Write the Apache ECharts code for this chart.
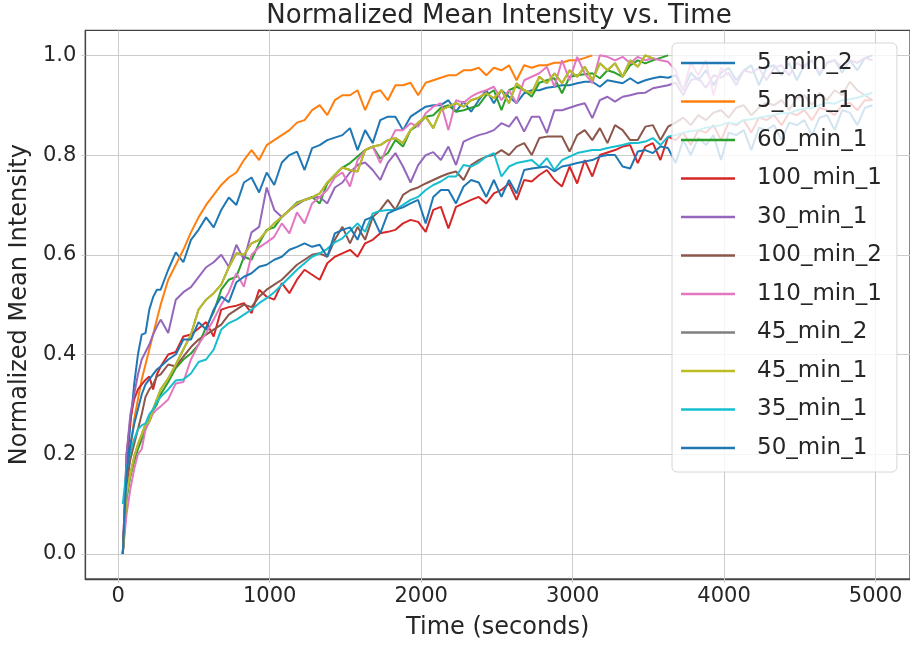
<!DOCTYPE html>
<html><head><meta charset="utf-8">
<script src="https://cdn.jsdelivr.net/npm/echarts@6/dist/echarts.min.js"></script>
<style>html,body{margin:0;padding:0;background:#fff}#c{width:910px;height:647px}</style>
</head><body><div id="c"></div><script>
const times = [30,55,80,105,130,155,180,205,230,255,280,
330,380,430,480,530,580,630,680,730,780,
830,880,930,980,1030,1080,1130,1180,1230,1280,
1330,1380,1430,1480,1530,1580,1630,1680,1730,1780,
1830,1880,1930,1980,2030,2080,2130,2180,2230,2280,
2330,2380,2430,2480,2530,2580,2630,2680,2730,2780,
2830,2880,2930,2980,3030,3080,3130,3180,3230,3280,
3330,3380,3430,3480,3530,3580,3630,3680,3730,3780,
3830,3880,3930,3980,4030,4080,4130,4180,4230,4280,
4330,4380,4430,4480,4530,4580,4630,4680,4730,4780,
4830,4880,4930,4980];

const v5min2 = [0,0.17,0.26,0.34,0.40,0.44,0.443,0.49,0.515,0.53,0.53,
0.57,0.605,0.585,0.63,0.65,0.675,0.655,0.69,0.715,0.70,
0.745,0.755,0.725,0.765,0.74,0.785,0.80,0.807,0.77,0.814,
0.82,0.83,0.835,0.84,0.854,0.81,0.85,0.824,0.87,0.877,
0.877,0.85,0.877,0.887,0.897,0.90,0.90,0.91,0.887,0.907,
0.887,0.91,0.93,0.904,0.93,0.917,0.904,0.924,0.93,0.93,
0.935,0.937,0.94,0.94,0.944,0.947,0.947,0.937,0.95,0.947,
0.944,0.954,0.944,0.95,0.954,0.957,0.955,0.96,0.93,0.965,
0.95,0.97,0.94,0.965,0.975,0.95,0.97,0.98,0.94,0.975,
0.98,0.96,0.985,0.95,0.98,0.99,0.96,0.985,0.99,0.965,
0.99,0.97,0.995,1.0];

const v5min1 = [0,0.13,0.21,0.27,0.31,0.35,0.38,0.41,0.44,0.47,0.50,
0.55,0.58,0.61,0.645,0.675,0.70,0.72,0.74,0.755,0.765,
0.79,0.81,0.79,0.82,0.83,0.84,0.85,0.865,0.87,0.89,
0.90,0.88,0.91,0.92,0.92,0.93,0.89,0.925,0.93,0.91,
0.94,0.94,0.945,0.92,0.945,0.95,0.955,0.96,0.96,0.97,
0.97,0.975,0.96,0.975,0.97,0.98,0.95,0.98,0.975,0.98,
0.98,0.985,0.985,0.99,0.99,0.995,1.0];

const v60min1 = [0,0.11,0.155,0.185,0.21,0.23,0.25,0.27,0.288,0.30,0.32,
0.345,0.373,0.39,0.402,0.42,0.455,0.485,0.53,0.55,0.556,
0.596,0.59,0.623,0.65,0.655,0.676,0.69,0.705,0.71,0.716,
0.703,0.743,0.76,0.775,0.784,0.797,0.81,0.817,0.793,0.804,
0.83,0.817,0.85,0.86,0.877,0.88,0.895,0.90,0.887,0.89,
0.895,0.90,0.92,0.93,0.89,0.93,0.937,0.93,0.917,0.945,
0.95,0.954,0.924,0.957,0.96,0.962,0.964,0.954,0.97,0.965,
0.957,0.98,0.99,0.984,0.99,0.995,1.0];

const v100min1 = [0,0.2,0.27,0.31,0.33,0.34,0.349,0.356,0.33,0.36,0.376,
0.40,0.405,0.436,0.44,0.452,0.465,0.436,0.49,0.495,0.498,
0.503,0.483,0.53,0.516,0.51,0.543,0.523,0.55,0.57,0.56,
0.55,0.583,0.596,0.603,0.61,0.596,0.623,0.63,0.643,0.646,
0.65,0.663,0.67,0.666,0.646,0.69,0.696,0.653,0.696,0.703,
0.71,0.716,0.703,0.723,0.73,0.743,0.71,0.75,0.747,0.76,
0.77,0.75,0.737,0.777,0.743,0.79,0.757,0.80,0.805,0.81,
0.817,0.82,0.784,0.817,0.824,0.79,0.837,0.83,0.845,0.82,
0.85,0.845,0.86,0.83,0.865,0.86,0.87,0.845,0.875,0.87,
0.88,0.86,0.885,0.88,0.89,0.87,0.895,0.89,0.88,0.90,
0.905,0.89,0.91,0.91];

const v30min1 = [0,0.2,0.28,0.32,0.36,0.39,0.405,0.42,0.44,0.456,0.47,
0.443,0.51,0.525,0.535,0.555,0.575,0.585,0.60,0.576,0.62,
0.59,0.645,0.656,0.735,0.69,0.676,0.69,0.70,0.71,0.715,
0.716,0.703,0.735,0.745,0.765,0.78,0.785,0.77,0.75,0.785,
0.804,0.777,0.745,0.78,0.80,0.806,0.79,0.817,0.78,0.827,
0.834,0.84,0.844,0.85,0.864,0.857,0.877,0.847,0.877,0.877,
0.844,0.89,0.89,0.895,0.90,0.904,0.874,0.91,0.917,0.907,
0.917,0.92,0.924,0.925,0.934,0.937,0.94,0.945,0.92,0.95,
0.955,0.935,0.96,0.955,0.965,0.94,0.97,0.965,0.975,0.95,
0.975,0.98,0.96,0.985,0.975,0.99,0.965,0.985,0.99,0.975,
0.99,0.985,0.995,0.99];

const v100min2 = [0,0.14,0.19,0.22,0.25,0.28,0.315,0.33,0.34,0.356,0.36,
0.38,0.376,0.396,0.415,0.43,0.44,0.45,0.46,0.48,0.49,
0.50,0.495,0.516,0.53,0.54,0.55,0.565,0.58,0.59,0.60,
0.603,0.596,0.63,0.656,0.623,0.656,0.63,0.676,0.69,0.71,
0.69,0.72,0.73,0.735,0.743,0.75,0.757,0.763,0.767,0.75,
0.78,0.79,0.797,0.80,0.81,0.80,0.817,0.824,0.80,0.834,
0.837,0.837,0.837,0.807,0.84,0.85,0.83,0.854,0.824,0.86,
0.85,0.83,0.83,0.857,0.86,0.83,0.857,0.865,0.875,0.86,
0.88,0.87,0.885,0.89,0.875,0.895,0.90,0.88,0.895,0.905,
0.90,0.91,0.89,0.915,0.92,0.90,0.925,0.91,0.93,0.92,
0.947,0.93,0.92,0.91];

const v110min1 = [0,0.08,0.13,0.17,0.20,0.21,0.25,0.265,0.282,0.29,0.296,
0.31,0.342,0.345,0.39,0.42,0.443,0.47,0.50,0.525,0.563,
0.536,0.60,0.615,0.625,0.636,0.663,0.643,0.685,0.663,0.703,
0.716,0.73,0.755,0.765,0.737,0.79,0.81,0.817,0.784,0.82,
0.85,0.85,0.864,0.857,0.884,0.897,0.904,0.85,0.91,0.905,
0.917,0.925,0.93,0.937,0.91,0.93,0.904,0.95,0.957,0.964,
0.977,0.937,0.99,0.95,0.997,0.964,0.944,1.0,0.997,0.99,
0.997,0.984,0.997,0.99,0.994,0.99,0.987,0.97,0.93,0.985,
0.96,0.99,0.92,0.975,0.96];

const v45min1 = [0,0.12,0.16,0.195,0.22,0.24,0.26,0.265,0.29,0.31,0.33,
0.352,0.38,0.41,0.44,0.49,0.51,0.523,0.54,0.575,0.603,
0.60,0.623,0.63,0.648,0.663,0.676,0.69,0.703,0.71,0.715,
0.723,0.745,0.76,0.775,0.77,0.767,0.81,0.817,0.82,0.83,
0.834,0.824,0.85,0.865,0.877,0.854,0.89,0.897,0.904,0.897,
0.91,0.915,0.924,0.914,0.93,0.904,0.944,0.93,0.924,0.957,
0.944,0.964,0.944,0.97,0.957,0.977,0.95,0.984,0.97,0.984,
0.957,0.99,0.977,1.0,0.994];

const v45min2 = v45min1;

const v35min1 = [0.10,0.17,0.205,0.23,0.25,0.258,0.262,0.28,0.29,0.305,0.315,
0.33,0.348,0.35,0.362,0.385,0.39,0.41,0.45,0.463,0.47,
0.48,0.49,0.503,0.513,0.525,0.54,0.555,0.57,0.583,0.596,
0.603,0.612,0.625,0.633,0.648,0.663,0.646,0.683,0.688,0.69,
0.69,0.70,0.71,0.716,0.73,0.74,0.747,0.757,0.757,0.78,
0.777,0.785,0.797,0.804,0.757,0.777,0.784,0.787,0.79,0.777,
0.794,0.77,0.79,0.797,0.804,0.807,0.81,0.81,0.814,0.817,
0.82,0.824,0.824,0.827,0.834,0.82,0.837,0.84,0.845,0.848,
0.85,0.855,0.857,0.86,0.865,0.862,0.87,0.872,0.875,0.878,
0.88,0.885,0.883,0.89,0.893,0.895,0.90,0.905,0.903,0.91,
0.912,0.915,0.92,0.925];

const v50min1 = [0,0.16,0.22,0.26,0.29,0.32,0.34,0.35,0.36,0.37,0.376,
0.39,0.40,0.43,0.43,0.465,0.45,0.49,0.516,0.505,0.545,
0.556,0.563,0.576,0.58,0.59,0.596,0.61,0.616,0.623,0.616,
0.62,0.596,0.643,0.65,0.655,0.63,0.67,0.676,0.643,0.683,
0.69,0.695,0.703,0.71,0.663,0.716,0.73,0.73,0.703,0.737,
0.75,0.745,0.716,0.75,0.716,0.75,0.723,0.77,0.773,0.775,
0.777,0.767,0.777,0.78,0.784,0.787,0.79,0.797,0.80,0.80,
0.777,0.773,0.807,0.81,0.804,0.817,0.814,0.784,0.83,0.80,
0.835,0.82,0.84,0.79,0.845,0.84,0.85,0.81,0.855,0.85,
0.86,0.83,0.865,0.86,0.87,0.84,0.875,0.88,0.85,0.89,
0.885,0.86,0.895,0.90];

const seriesNames = ['5_min_2','5_min_1','60_min_1','100_min_1','30_min_1','100_min_2','110_min_1','45_min_2','45_min_1','35_min_1','50_min_1'];
const seriesValues = [v5min2,v5min1,v60min1,v100min1,v30min1,v100min2,v110min1,v45min2,v45min1,v35min1,v50min1];
const seriesColors = ['#1f77b4','#ff7f0e','#2ca02c','#d62728','#9467bd','#8c564b','#e377c2','#7f7f7f','#bcbd22','#17becf','#1f77b4'];
const xTicks = [0,1000,2000,3000,4000,5000];
const yTicks = [0,0.2,0.4,0.6,0.8,1.0];

const FONT = '"DejaVu Sans", sans-serif';
const TXT = '#262626';
const chart = echarts.init(document.getElementById('c'), null, {renderer:'canvas'});
const series = seriesNames.map((n, k) => ({
  type:'line', name:n, color:seriesColors[k], symbol:'none', showSymbol:false,
  animation:false, silent:true,
  lineStyle:{width:2, color:seriesColors[k]},
  data: seriesValues[k].map((v, i) => [times[i], v])
}));
chart.setOption({
  animation:false,
  backgroundColor:'#ffffff',
  title:{text:'Normalized Mean Intensity vs. Time', left:499, top:3, textAlign:'center', padding:0,
    textStyle:{fontFamily:FONT, fontSize:26, fontWeight:'normal', color:TXT}},
  grid:{left:85.3, top:30.4, width:827.6, height:548.5, show:true, borderColor:'#444', borderWidth:1.25, containLabel:false},
  xAxis:{type:'value', min:-217.5, max:5227.5,
    axisLine:{show:true, onZero:false, lineStyle:{color:'#444', width:1.25}},
    axisTick:{show:true, customValues:xTicks, length:4, lineStyle:{color:'#cccccc'}},
    axisLabel:{customValues:xTicks, fontFamily:FONT, fontSize:21, color:TXT, margin:7, formatter:v=>String(Math.round(v))},
    splitLine:{show:true, lineStyle:{color:'#cccccc', width:1}},
    name:'Time (seconds)', nameLocation:'middle', nameGap:37,
    nameTextStyle:{fontFamily:FONT, fontSize:24, color:TXT}},
  yAxis:{type:'value', min:-0.05, max:1.05,
    axisLine:{show:true, onZero:false, lineStyle:{color:'#444', width:1.25}},
    axisTick:{show:true, customValues:yTicks, length:4, lineStyle:{color:'#cccccc'}},
    axisLabel:{customValues:yTicks, fontFamily:FONT, fontSize:21, color:TXT, margin:9, formatter:v=>v.toFixed(1)},
    splitLine:{show:true, lineStyle:{color:'#cccccc', width:1}},
    name:'Normalized Mean Intensity', nameLocation:'middle', nameGap:51,
    nameTextStyle:{fontFamily:FONT, fontSize:24, color:TXT}},
  legend:{orient:'vertical', left:672, top:43, itemWidth:54, itemHeight:2.5, itemGap:12.5, icon:'rect',
    padding:[7,15,11,9], backgroundColor:'rgba(255,255,255,0.8)', borderColor:'#d6d6d6', borderWidth:1, borderRadius:5,
    selectedMode:false,
    textStyle:{fontFamily:FONT, fontSize:23, color:TXT, lineHeight:26, padding:[0,0,0,17]}},
  series: series
});
</script></body></html>
